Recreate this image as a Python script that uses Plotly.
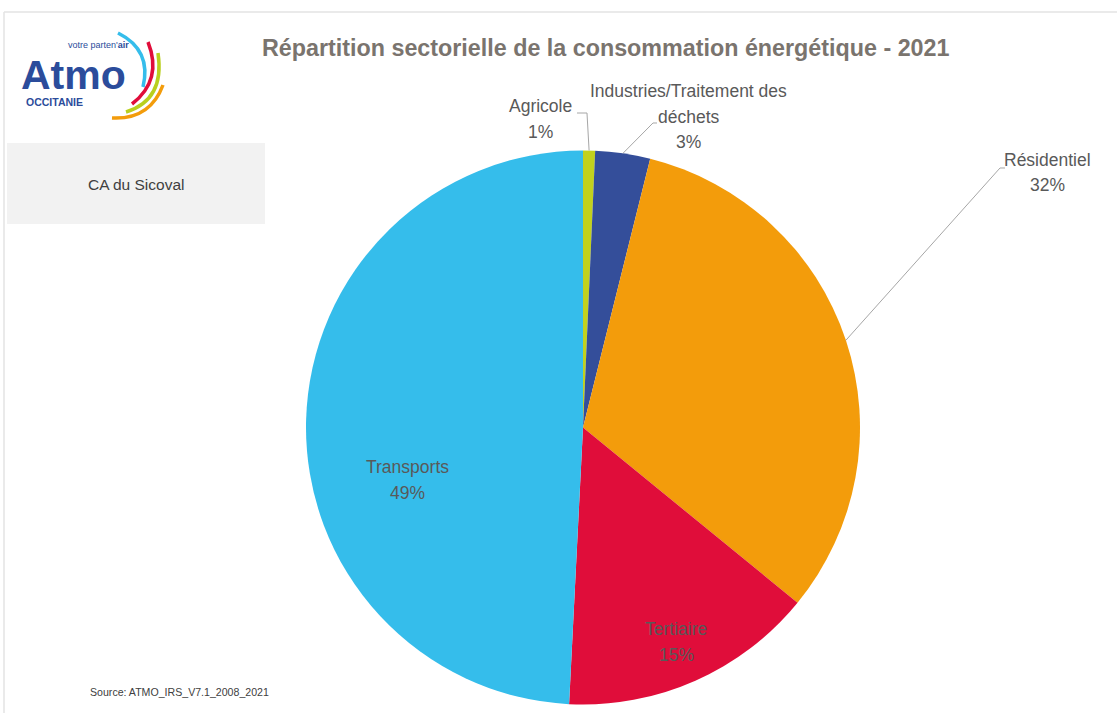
import math
import plotly.graph_objects as go

W, H = 1117, 713

# ---- data ----
sectors = ["Agricole", "Industries/Traitement des déchets", "Résidentiel", "Tertiaire", "Transports"]
label_lines = [["Agricole"], ["Industries/Traitement des", "déchets"], ["Résidentiel"], ["Tertiaire"], ["Transports"]]
shares = [0.7, 3.2, 32.0, 14.9, 49.2]
pct_text = ["1%", "3%", "32%", "15%", "49%"]
colors = ["#C2D11E", "#344E9A", "#F39C0B", "#E00D3A", "#35BDEB"]

title = "Répartition sectorielle de la consommation énergétique - 2021"
territory = "CA du Sicoval"
source = "Source: ATMO_IRS_V7.1_2008_2021"

SANS = "Liberation Sans, Arial, sans-serif"

def px(x):
    return x / W

def py(y):
    return 1 - y / H

# pie geometry (pixels)
cx, cy, r = 583, 427.5, 277

fig = go.Figure()
fig.add_trace(go.Pie(
    labels=sectors, values=shares, sort=False, direction="clockwise", rotation=0,
    marker=dict(colors=colors, line=dict(width=0)),
    textinfo="none", hoverinfo="label+percent", showlegend=False,
    domain=dict(x=[px(cx - r), px(cx + r)], y=[py(cy + r), py(cy - r)]),
))

# first text line position (pixels) and leader line elbows
label_pos = {
    "Agricole": (540, 106),
    "Industries/Traitement des déchets": (689, 91),
    "Résidentiel": (1047, 160),
    "Tertiaire": (676, 629),
    "Transports": (407, 467),
}
leaders = {
    "Agricole": [(587, 113), (577, 113)],
    "Industries/Traitement des déchets": [(653, 123), (657, 123)],
    "Résidentiel": [(1000, 168), (1005, 168)],
}
LINE_H = 25.5

total = sum(shares)
cum = 0
annotations = []
shapes = []
for name, lines, v, pt in zip(sectors, label_lines, shares, pct_text):
    mid = (cum + v / 2) / total * 2 * math.pi
    cum += v
    lx, ly = label_pos[name]
    for i, t in enumerate(lines + [pt]):
        annotations.append(dict(
            x=px(lx), y=py(ly + i * LINE_H), xref="paper", yref="paper", xanchor="center", yanchor="middle",
            text=t, showarrow=False, align="center",
            font=dict(family=SANS, size=17.5, color="#595959"),
        ))
    if name in leaders:
        ex = cx + r * math.sin(mid)
        ey = cy - r * math.cos(mid)
        pts = [(ex, ey)] + leaders[name]
        path = "M " + " L ".join(f"{px(a):.5f},{py(b):.5f}" for a, b in pts)
        shapes.append(dict(type="path", xref="paper", yref="paper", path=path,
                           line=dict(color="#A6A6A6", width=1)))

# title
annotations.append(dict(x=px(606), y=py(48), xref="paper", yref="paper", xanchor="center",
                        yanchor="middle", text=f"<b>{title}</b>", showarrow=False,
                        font=dict(family=SANS, size=23.3, color="#7A746E")))
# territory box
shapes.append(dict(type="rect", xref="paper", yref="paper", x0=px(7), x1=px(265), y0=py(224), y1=py(143),
                   fillcolor="#F2F2F2", line=dict(width=0), layer="below"))
annotations.append(dict(x=px(136), y=py(184), xref="paper", yref="paper", xanchor="center", yanchor="middle",
                        text=territory, showarrow=False, font=dict(family=SANS, size=15.5, color="#404040")))
# source
annotations.append(dict(x=px(88), y=py(692), xref="paper", yref="paper", xanchor="left", yanchor="middle",
                        text=source, showarrow=False, font=dict(family=SANS, size=10.6, color="#404040")))
# frame lines
shapes.append(dict(type="line", xref="paper", yref="paper", x0=px(4), x1=1, y0=py(12), y1=py(12),
                   line=dict(color="#E3E3E3", width=1.5)))
shapes.append(dict(type="line", xref="paper", yref="paper", x0=px(4), x1=px(4), y0=py(12), y1=0,
                   line=dict(color="#E3E3E3", width=1.5)))

# logo
LOGO = "#2B4C9B"
annotations.append(dict(x=px(19), y=py(75), xref="paper", yref="paper", xanchor="left", yanchor="middle",
                        text="<b>Atmo</b>", showarrow=False, font=dict(family=SANS, size=41, color=LOGO)))
annotations.append(dict(x=px(131), y=py(45), xref="paper", yref="paper", xanchor="right", yanchor="middle",
                        text="votre parten'<b>air</b>", showarrow=False, font=dict(family=SANS, size=9, color=LOGO)))
annotations.append(dict(x=px(24), y=py(102), xref="paper", yref="paper", xanchor="left", yanchor="middle",
                        text="<b>OCCITANIE</b>", showarrow=False, font=dict(family=SANS, size=10.5, color=LOGO)))
arcs = [
    ("#35BDEB", (118, 33), (152, 50), (143, 87)),
    ("#E00D3A", (148, 42), (163, 80), (132, 104)),
    ("#B9CF1E", (158, 53), (165, 100), (126, 112)),
    ("#F39C0B", (163, 85), (150, 120), (112, 118)),
]
for col, p0, c, p1 in arcs:
    shapes.append(dict(type="path", xref="paper", yref="paper",
                       path=f"M {px(p0[0]):.5f},{py(p0[1]):.5f} Q {px(c[0]):.5f},{py(c[1]):.5f} {px(p1[0]):.5f},{py(p1[1]):.5f}",
                       line=dict(color=col, width=3.5)))

fig.update_layout(
    width=W, height=H, autosize=False,
    margin=dict(l=0, r=0, t=0, b=0),
    paper_bgcolor="white", plot_bgcolor="white",
    annotations=annotations, shapes=shapes,
)

fig.write_html("out.html", include_plotlyjs=True, full_html=True,
               config={"displayModeBar": False},
               post_script="document.body.style.margin='0';")
